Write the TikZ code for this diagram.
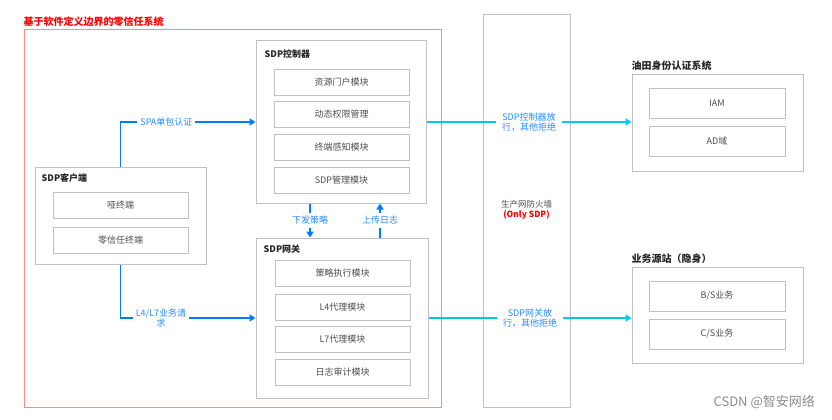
\documentclass[tikz,border=0pt]{standalone}
\usepackage{fontspec}
\setmainfont{Noto Sans CJK SC}
\usetikzlibrary{arrows.meta}

\definecolor{linkblue}{RGB}{0,122,255}
\definecolor{labelblue}{RGB}{40,140,255}
\definecolor{passcyan}{RGB}{0,200,245}
\definecolor{boxgray}{RGB}{192,192,192}
\definecolor{framered}{RGB}{255,140,140}
\definecolor{titlered}{RGB}{255,0,0}

\begin{document}
\begin{tikzpicture}[x=1pt,y=-1pt,
	group/.style={draw=boxgray,line width=1pt,inner sep=0pt},
	module/.style={draw=boxgray,line width=1pt,inner sep=0pt,minimum width=135pt,minimum height=26pt,
		font=\fontsize{9}{11}\selectfont,text=black!70},
	grouptitle/.style={anchor=west,inner sep=0pt,font=\fontsize{9}{11}\selectfont\bfseries,text=black!85},
	bigtitle/.style={anchor=south west,inner sep=0pt,font=\fontsize{10}{12}\selectfont\bfseries,text=black!85},
	bluelink/.style={linkblue,line width=1.7pt,-{Triangle[length=6pt,width=7pt]}},
	cyanlink/.style={passcyan,line width=1.7pt,-{Triangle[length=6pt,width=7pt]}},
	linklabel/.style={fill=white,inner sep=3pt,align=center,text=labelblue,
		font=\fontsize{9}{10.5}\selectfont}]
	
	\useasboundingbox (0,0) rectangle (832,420);
	
	% Zero trust frame
	\node[draw=framered,line width=1pt,minimum width=417pt,minimum height=377pt] (zt) at (232.5,218.5) {};
	\node[anchor=south west,inner sep=0pt,text=titlered,font=\fontsize{10}{12}\selectfont\bfseries]
		(zttitle) at ([yshift=3pt]zt.north west) {基于软件定义边界的零信任系统};
	
	% SDP controller
	\node[group,minimum width=170pt,minimum height=162pt] (ctrl) at (341,122) {};
	\node[grouptitle] (ctrltitle) at ([shift={(9,14)}]ctrl.north west) {SDP控制器};
	\node[module] (res) at (341.5,82) {资源门户模块};
	\node[module] (perm) at (341.5,114.5) {动态权限管理};
	\node[module] (sense) at (341.5,147.5) {终端感知模块};
	\node[module] (mgmt) at (341.5,180) {SDP管理模块};
	
	% SDP gateway
	\node[group,minimum width=172pt,minimum height=160pt] (gw) at (342,318) {};
	\node[grouptitle] (gwtitle) at ([shift={(8,12)}]gw.north west) {SDP网关};
	\node[module] (exec) at (342.5,273.5) {策略执行模块};
	\node[module] (lfour) at (342.5,307) {L4代理模块};
	\node[module] (lseven) at (342.5,339.5) {L7代理模块};
	\node[module] (audit) at (342.5,372.5) {日志审计模块};
	
	% SDP client
	\node[group,minimum width=171pt,minimum height=97pt] (cli) at (120.5,215.5) {};
	\node[grouptitle] (clititle) at ([shift={(7,12)}]cli.north west) {SDP客户端};
	\node[module] (dumb) at (120.5,205.5) {哑终端};
	\node[module] (ztterm) at (120.5,240.5) {零信任终端};
	
	% Firewall
	\node[group,minimum width=87pt,minimum height=392pt] (fw) at (526.5,211) {};
	\node[inner sep=0pt,align=center,font=\fontsize{8.5}{10}\selectfont,text=black!70] (fwtext) at (526.5,210)
		{生产网防火墙\\{\color{titlered}\bfseries(Only SDP)}};
	
	% Identity system
	\node[group,minimum width=171pt,minimum height=97pt] (idsys) at (717.5,122.5) {};
	\node[bigtitle] (idtitle) at ([yshift=3pt]idsys.north west) {油田身份认证系统};
	\node[module,minimum width=136pt,minimum height=30pt] (iam) at (717,103) {IAM};
	\node[module,minimum width=136pt,minimum height=30pt] (ad) at (717,141.5) {AD域};
	
	% Business origin
	\node[group,minimum width=171pt,minimum height=96pt] (biz) at (717.5,315) {};
	\node[bigtitle] (biztitle) at ([yshift=3pt]biz.north west) {业务源站（隐身）};
	\node[module,minimum width=136pt,minimum height=30pt] (bs) at (717,296) {B/S业务};
	\node[module,minimum width=136pt,minimum height=30pt] (cs) at (717,334) {C/S业务};
	
	%% Client links
	\draw[bluelink] (cli.north) |- (ctrl.west) node[linklabel,pos=0.67] {SPA单包认证};
	\draw[bluelink] (cli.south) |- (gw.west) node[linklabel,pos=0.65] {L4/L7业务请\\求};
	
	%% Policy and logs
	\coordinate (xdown) at (310,0);
	\coordinate (xup) at (380,0);
	\draw[bluelink] (ctrl.south -| xdown) -- (gw.north -| xdown) node[linklabel,pos=0.5] {下发策略};
	\draw[bluelink] (gw.north -| xup) -- (ctrl.south -| xup) node[linklabel,pos=0.5] {上传日志};
	
	%% Through the firewall
	\draw[cyanlink] (ctrl.east) -- (ctrl.east -| idsys.west) node[linklabel,pos=0.5,inner sep=6pt] {SDP控制器放\\行，其他拒绝};
	\draw[cyanlink] (gw.east) -- (gw.east -| biz.west) node[linklabel,pos=0.5,inner sep=6pt] {SDP网关放\\行，其他拒绝};
	
	% Watermark
	\node[anchor=east,inner sep=0pt,text=black!45,font=\fontsize{13}{15}\selectfont] (mark) at (815,402) {CSDN @智安网络};
	
\end{tikzpicture}
\end{document}
